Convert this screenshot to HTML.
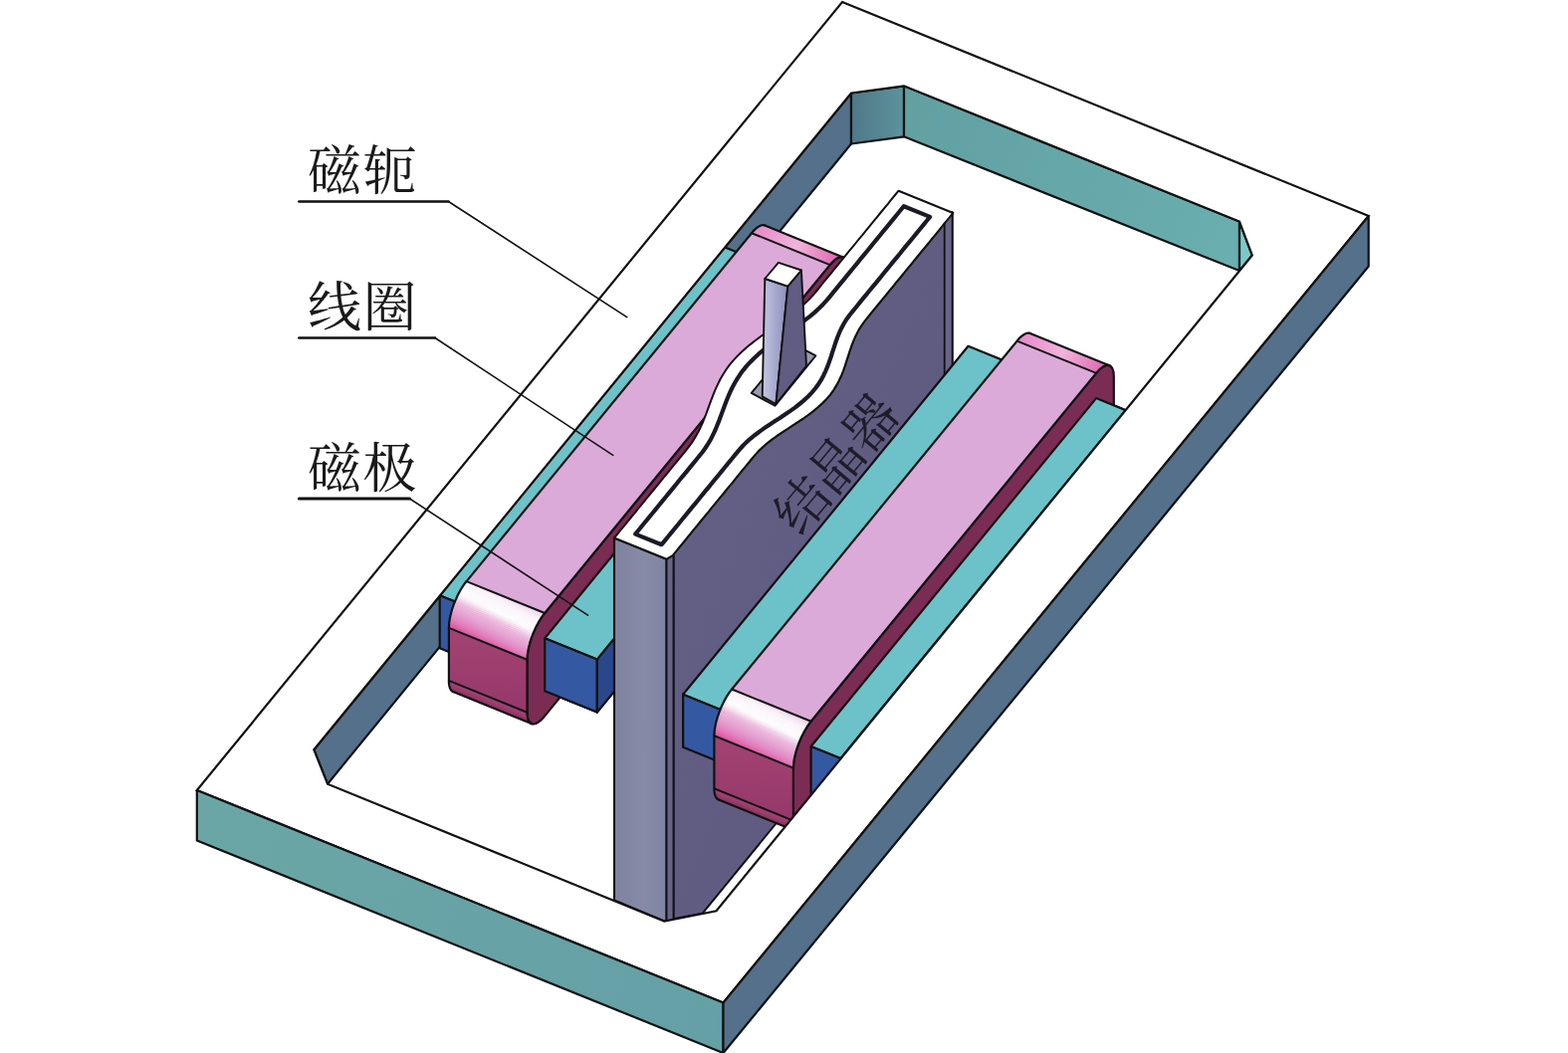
<!DOCTYPE html>
<html lang="zh"><head><meta charset="utf-8"><title>磁轭 线圈 磁极 结晶器</title>
<style>html,body{margin:0;padding:0;background:#fff}body{width:1575px;height:1058px;overflow:hidden;font-family:"Liberation Serif",serif}
svg{display:block;position:absolute;left:0;top:0}
.lbl{position:absolute;margin:0;color:transparent;font-size:52px;line-height:1;white-space:nowrap;font-family:"Liberation Serif",serif;opacity:0}
</style></head><body>
<svg width="1575" height="1058" viewBox="0 0 1575 1058" role="img"><title>电磁制动结构示意图：磁轭、线圈、磁极、结晶器</title><defs><linearGradient id="gCh" x1="0" y1="0" x2="1" y2="0"><stop offset="0" stop-color="#4f7888"/><stop offset="1" stop-color="#5d939c"/></linearGradient><linearGradient id="gFar" gradientUnits="userSpaceOnUse" x1="908" y1="100" x2="1245" y2="240"><stop offset="0" stop-color="#62a0a2"/><stop offset="1" stop-color="#6aaeb0"/></linearGradient><linearGradient id="gLB" gradientUnits="userSpaceOnUse" x1="198" y1="820" x2="726" y2="1030"><stop offset="0" stop-color="#6ba6a6"/><stop offset="1" stop-color="#64a0a6"/></linearGradient><linearGradient id="gFarStrip967" gradientUnits="userSpaceOnUse" x1="767.4" y1="226.6" x2="846.0" y2="258.6"><stop offset="0" stop-color="#e88fcc"/><stop offset="0.45" stop-color="#efb4dc"/><stop offset="1" stop-color="#df62b0"/></linearGradient><linearGradient id="b967_0" gradientUnits="userSpaceOnUse" x1="468.1" y1="584.6" x2="546.7" y2="616.6"><stop offset="0" stop-color="#f9eaf5"/><stop offset="0.5" stop-color="#f3dcee"/><stop offset="1" stop-color="#f3dcee"/></linearGradient><linearGradient id="b967_1" gradientUnits="userSpaceOnUse" x1="467.2" y1="585.8" x2="545.8" y2="617.8"><stop offset="0" stop-color="#fcf2f9"/><stop offset="0.5" stop-color="#f6e4f2"/><stop offset="1" stop-color="#f3dcee"/></linearGradient><linearGradient id="b967_2" gradientUnits="userSpaceOnUse" x1="466.2" y1="587.1" x2="544.9" y2="619.1"><stop offset="0" stop-color="#fdf5fb"/><stop offset="0.5" stop-color="#faecf6"/><stop offset="1" stop-color="#f4ddef"/></linearGradient><linearGradient id="b967_3" gradientUnits="userSpaceOnUse" x1="465.3" y1="588.4" x2="544.0" y2="620.4"><stop offset="0" stop-color="#fdf7fb"/><stop offset="0.5" stop-color="#fdf4fa"/><stop offset="1" stop-color="#f7e5f3"/></linearGradient><linearGradient id="b967_4" gradientUnits="userSpaceOnUse" x1="464.4" y1="589.8" x2="543.0" y2="621.8"><stop offset="0" stop-color="#fef8fc"/><stop offset="0.5" stop-color="#fdf5fb"/><stop offset="1" stop-color="#faedf7"/></linearGradient><linearGradient id="b967_5" gradientUnits="userSpaceOnUse" x1="463.5" y1="591.2" x2="542.2" y2="623.2"><stop offset="0" stop-color="#fefafd"/><stop offset="0.5" stop-color="#fef7fb"/><stop offset="1" stop-color="#fdf4fa"/></linearGradient><linearGradient id="b967_6" gradientUnits="userSpaceOnUse" x1="462.6" y1="592.7" x2="541.3" y2="624.7"><stop offset="0" stop-color="#fefbfd"/><stop offset="0.5" stop-color="#fef9fc"/><stop offset="1" stop-color="#fdf6fb"/></linearGradient><linearGradient id="b967_7" gradientUnits="userSpaceOnUse" x1="461.8" y1="594.3" x2="540.4" y2="626.2"><stop offset="0" stop-color="#fffdfe"/><stop offset="0.5" stop-color="#fefafd"/><stop offset="1" stop-color="#fef7fc"/></linearGradient><linearGradient id="b967_8" gradientUnits="userSpaceOnUse" x1="460.9" y1="595.8" x2="539.6" y2="627.8"><stop offset="0" stop-color="#fffeff"/><stop offset="0.5" stop-color="#fefcfd"/><stop offset="1" stop-color="#fef9fc"/></linearGradient><linearGradient id="b967_9" gradientUnits="userSpaceOnUse" x1="460.1" y1="597.4" x2="538.7" y2="629.4"><stop offset="0" stop-color="#fdf7fb"/><stop offset="0.5" stop-color="#fffdfe"/><stop offset="1" stop-color="#fefafd"/></linearGradient><linearGradient id="b967_10" gradientUnits="userSpaceOnUse" x1="459.3" y1="599.1" x2="537.9" y2="631.0"><stop offset="0" stop-color="#fae9f5"/><stop offset="0.5" stop-color="#ffffff"/><stop offset="1" stop-color="#fefcfe"/></linearGradient><linearGradient id="b967_11" gradientUnits="userSpaceOnUse" x1="458.5" y1="600.7" x2="537.2" y2="632.7"><stop offset="0" stop-color="#f7dbee"/><stop offset="0.5" stop-color="#fdf4fa"/><stop offset="1" stop-color="#fffdfe"/></linearGradient><linearGradient id="b967_12" gradientUnits="userSpaceOnUse" x1="457.8" y1="602.4" x2="536.4" y2="634.4"><stop offset="0" stop-color="#f4cde7"/><stop offset="0.5" stop-color="#fae6f3"/><stop offset="1" stop-color="#ffffff"/></linearGradient><linearGradient id="b967_13" gradientUnits="userSpaceOnUse" x1="457.1" y1="604.1" x2="535.7" y2="636.1"><stop offset="0" stop-color="#f1bee1"/><stop offset="0.5" stop-color="#f6d8ed"/><stop offset="1" stop-color="#fcf1f9"/></linearGradient><linearGradient id="b967_14" gradientUnits="userSpaceOnUse" x1="456.4" y1="605.9" x2="535.0" y2="637.8"><stop offset="0" stop-color="#efb7dd"/><stop offset="0.5" stop-color="#f3cae6"/><stop offset="1" stop-color="#f9e3f2"/></linearGradient><linearGradient id="b967_15" gradientUnits="userSpaceOnUse" x1="455.7" y1="607.6" x2="534.3" y2="639.6"><stop offset="0" stop-color="#edb2da"/><stop offset="0.5" stop-color="#f0bcdf"/><stop offset="1" stop-color="#f6d5eb"/></linearGradient><linearGradient id="b967_16" gradientUnits="userSpaceOnUse" x1="455.1" y1="609.3" x2="533.7" y2="641.3"><stop offset="0" stop-color="#ebadd8"/><stop offset="0.5" stop-color="#eeb6dc"/><stop offset="1" stop-color="#f3c7e5"/></linearGradient><linearGradient id="b967_17" gradientUnits="userSpaceOnUse" x1="454.5" y1="611.1" x2="533.1" y2="643.0"><stop offset="0" stop-color="#eaa8d5"/><stop offset="0.5" stop-color="#edb1da"/><stop offset="1" stop-color="#f0badf"/></linearGradient><linearGradient id="b967_18" gradientUnits="userSpaceOnUse" x1="454.0" y1="612.8" x2="532.6" y2="644.8"><stop offset="0" stop-color="#e8a2d2"/><stop offset="0.5" stop-color="#ebacd7"/><stop offset="1" stop-color="#eeb5dc"/></linearGradient><linearGradient id="b967_19" gradientUnits="userSpaceOnUse" x1="453.5" y1="614.5" x2="532.1" y2="646.5"><stop offset="0" stop-color="#e69dd0"/><stop offset="0.5" stop-color="#e9a7d4"/><stop offset="1" stop-color="#ecb0d9"/></linearGradient><linearGradient id="b967_20" gradientUnits="userSpaceOnUse" x1="453.0" y1="616.2" x2="531.6" y2="648.2"><stop offset="0" stop-color="#e697cc"/><stop offset="0.5" stop-color="#e8a1d2"/><stop offset="1" stop-color="#ebabd7"/></linearGradient><linearGradient id="b967_21" gradientUnits="userSpaceOnUse" x1="452.6" y1="617.9" x2="531.2" y2="649.9"><stop offset="0" stop-color="#e690c7"/><stop offset="0.5" stop-color="#e69ccf"/><stop offset="1" stop-color="#e9a6d4"/></linearGradient><linearGradient id="b967_22" gradientUnits="userSpaceOnUse" x1="452.2" y1="619.6" x2="530.8" y2="651.5"><stop offset="0" stop-color="#e789c3"/><stop offset="0.5" stop-color="#e695cb"/><stop offset="1" stop-color="#e7a0d1"/></linearGradient><linearGradient id="b967_23" gradientUnits="userSpaceOnUse" x1="451.9" y1="621.2" x2="530.5" y2="653.2"><stop offset="0" stop-color="#e782be"/><stop offset="0.5" stop-color="#e68ec6"/><stop offset="1" stop-color="#e69bce"/></linearGradient><linearGradient id="b967_24" gradientUnits="userSpaceOnUse" x1="451.6" y1="622.8" x2="530.2" y2="654.8"><stop offset="0" stop-color="#e77bba"/><stop offset="0.5" stop-color="#e787c2"/><stop offset="1" stop-color="#e694ca"/></linearGradient><linearGradient id="b967_25" gradientUnits="userSpaceOnUse" x1="451.4" y1="624.4" x2="530.0" y2="656.4"><stop offset="0" stop-color="#e673b4"/><stop offset="0.5" stop-color="#e780bd"/><stop offset="1" stop-color="#e68dc5"/></linearGradient><linearGradient id="b967_26" gradientUnits="userSpaceOnUse" x1="451.2" y1="625.9" x2="529.8" y2="657.9"><stop offset="0" stop-color="#e46aae"/><stop offset="0.5" stop-color="#e779b9"/><stop offset="1" stop-color="#e786c1"/></linearGradient><linearGradient id="b967_27" gradientUnits="userSpaceOnUse" x1="451.0" y1="627.4" x2="529.6" y2="659.4"><stop offset="0" stop-color="#e260a7"/><stop offset="0.5" stop-color="#e671b3"/><stop offset="1" stop-color="#e77fbd"/></linearGradient><linearGradient id="b967_28" gradientUnits="userSpaceOnUse" x1="450.9" y1="628.8" x2="529.5" y2="660.8"><stop offset="0" stop-color="#e057a0"/><stop offset="0.5" stop-color="#e468ac"/><stop offset="1" stop-color="#e778b8"/></linearGradient><linearGradient id="b967_29" gradientUnits="userSpaceOnUse" x1="450.9" y1="630.2" x2="529.5" y2="662.2"><stop offset="0" stop-color="#df549d"/><stop offset="0.5" stop-color="#e25fa5"/><stop offset="1" stop-color="#e66fb2"/></linearGradient><linearGradient id="gFr967" x1="0" y1="0" x2="0" y2="1"><stop offset="0" stop-color="#a34373"/><stop offset="1" stop-color="#95386a"/></linearGradient><linearGradient id="gPur" gradientUnits="userSpaceOnUse" x1="700" y1="520" x2="900" y2="600"><stop offset="0" stop-color="#635e83"/><stop offset="1" stop-color="#5f5b80"/></linearGradient><linearGradient id="gGray" x1="0" y1="0" x2="1" y2="0"><stop offset="0" stop-color="#7e829f"/><stop offset="0.55" stop-color="#868aa6"/><stop offset="1" stop-color="#8085a1"/></linearGradient><linearGradient id="gNz" x1="0" y1="0" x2="1" y2="0"><stop offset="0" stop-color="#c4c7e2"/><stop offset="0.5" stop-color="#a6a9ce"/><stop offset="1" stop-color="#8e90b8"/></linearGradient><linearGradient id="gFarStrip1322" gradientUnits="userSpaceOnUse" x1="1033.9" y1="335.0" x2="1113.5" y2="367.3"><stop offset="0" stop-color="#e88fcc"/><stop offset="0.45" stop-color="#efb4dc"/><stop offset="1" stop-color="#df62b0"/></linearGradient><linearGradient id="b1322_0" gradientUnits="userSpaceOnUse" x1="734.6" y1="693.0" x2="814.2" y2="725.4"><stop offset="0" stop-color="#f9eaf5"/><stop offset="0.5" stop-color="#f3dcee"/><stop offset="1" stop-color="#f3dcee"/></linearGradient><linearGradient id="b1322_1" gradientUnits="userSpaceOnUse" x1="733.7" y1="694.2" x2="813.2" y2="726.6"><stop offset="0" stop-color="#fcf2f9"/><stop offset="0.5" stop-color="#f6e4f2"/><stop offset="1" stop-color="#f3dcee"/></linearGradient><linearGradient id="b1322_2" gradientUnits="userSpaceOnUse" x1="732.8" y1="695.5" x2="812.3" y2="727.9"><stop offset="0" stop-color="#fdf5fb"/><stop offset="0.5" stop-color="#faecf6"/><stop offset="1" stop-color="#f4ddef"/></linearGradient><linearGradient id="b1322_3" gradientUnits="userSpaceOnUse" x1="731.9" y1="696.8" x2="811.4" y2="729.2"><stop offset="0" stop-color="#fdf7fb"/><stop offset="0.5" stop-color="#fdf4fa"/><stop offset="1" stop-color="#f7e5f3"/></linearGradient><linearGradient id="b1322_4" gradientUnits="userSpaceOnUse" x1="731.0" y1="698.2" x2="810.5" y2="730.6"><stop offset="0" stop-color="#fef8fc"/><stop offset="0.5" stop-color="#fdf5fb"/><stop offset="1" stop-color="#faedf7"/></linearGradient><linearGradient id="b1322_5" gradientUnits="userSpaceOnUse" x1="730.1" y1="699.6" x2="809.6" y2="732.0"><stop offset="0" stop-color="#fefafd"/><stop offset="0.5" stop-color="#fef7fb"/><stop offset="1" stop-color="#fdf4fa"/></linearGradient><linearGradient id="b1322_6" gradientUnits="userSpaceOnUse" x1="729.2" y1="701.1" x2="808.7" y2="733.5"><stop offset="0" stop-color="#fefbfd"/><stop offset="0.5" stop-color="#fef9fc"/><stop offset="1" stop-color="#fdf6fb"/></linearGradient><linearGradient id="b1322_7" gradientUnits="userSpaceOnUse" x1="728.3" y1="702.7" x2="807.9" y2="735.0"><stop offset="0" stop-color="#fffdfe"/><stop offset="0.5" stop-color="#fefafd"/><stop offset="1" stop-color="#fef7fc"/></linearGradient><linearGradient id="b1322_8" gradientUnits="userSpaceOnUse" x1="727.5" y1="704.2" x2="807.0" y2="736.6"><stop offset="0" stop-color="#fffeff"/><stop offset="0.5" stop-color="#fefcfd"/><stop offset="1" stop-color="#fef9fc"/></linearGradient><linearGradient id="b1322_9" gradientUnits="userSpaceOnUse" x1="726.7" y1="705.8" x2="806.2" y2="738.2"><stop offset="0" stop-color="#fdf7fb"/><stop offset="0.5" stop-color="#fffdfe"/><stop offset="1" stop-color="#fefafd"/></linearGradient><linearGradient id="b1322_10" gradientUnits="userSpaceOnUse" x1="725.9" y1="707.5" x2="805.4" y2="739.8"><stop offset="0" stop-color="#fae9f5"/><stop offset="0.5" stop-color="#ffffff"/><stop offset="1" stop-color="#fefcfe"/></linearGradient><linearGradient id="b1322_11" gradientUnits="userSpaceOnUse" x1="725.1" y1="709.1" x2="804.6" y2="741.5"><stop offset="0" stop-color="#f7dbee"/><stop offset="0.5" stop-color="#fdf4fa"/><stop offset="1" stop-color="#fffdfe"/></linearGradient><linearGradient id="b1322_12" gradientUnits="userSpaceOnUse" x1="724.3" y1="710.8" x2="803.9" y2="743.2"><stop offset="0" stop-color="#f4cde7"/><stop offset="0.5" stop-color="#fae6f3"/><stop offset="1" stop-color="#ffffff"/></linearGradient><linearGradient id="b1322_13" gradientUnits="userSpaceOnUse" x1="723.6" y1="712.5" x2="803.1" y2="744.9"><stop offset="0" stop-color="#f1bee1"/><stop offset="0.5" stop-color="#f6d8ed"/><stop offset="1" stop-color="#fcf1f9"/></linearGradient><linearGradient id="b1322_14" gradientUnits="userSpaceOnUse" x1="722.9" y1="714.3" x2="802.5" y2="746.6"><stop offset="0" stop-color="#efb7dd"/><stop offset="0.5" stop-color="#f3cae6"/><stop offset="1" stop-color="#f9e3f2"/></linearGradient><linearGradient id="b1322_15" gradientUnits="userSpaceOnUse" x1="722.3" y1="716.0" x2="801.8" y2="748.3"><stop offset="0" stop-color="#edb2da"/><stop offset="0.5" stop-color="#f0bcdf"/><stop offset="1" stop-color="#f6d5eb"/></linearGradient><linearGradient id="b1322_16" gradientUnits="userSpaceOnUse" x1="721.7" y1="717.7" x2="801.2" y2="750.1"><stop offset="0" stop-color="#ebadd8"/><stop offset="0.5" stop-color="#eeb6dc"/><stop offset="1" stop-color="#f3c7e5"/></linearGradient><linearGradient id="b1322_17" gradientUnits="userSpaceOnUse" x1="721.1" y1="719.5" x2="800.6" y2="751.8"><stop offset="0" stop-color="#eaa8d5"/><stop offset="0.5" stop-color="#edb1da"/><stop offset="1" stop-color="#f0badf"/></linearGradient><linearGradient id="b1322_18" gradientUnits="userSpaceOnUse" x1="720.5" y1="721.2" x2="800.1" y2="753.5"><stop offset="0" stop-color="#e8a2d2"/><stop offset="0.5" stop-color="#ebacd7"/><stop offset="1" stop-color="#eeb5dc"/></linearGradient><linearGradient id="b1322_19" gradientUnits="userSpaceOnUse" x1="720.0" y1="722.9" x2="799.5" y2="755.3"><stop offset="0" stop-color="#e69dd0"/><stop offset="0.5" stop-color="#e9a7d4"/><stop offset="1" stop-color="#ecb0d9"/></linearGradient><linearGradient id="b1322_20" gradientUnits="userSpaceOnUse" x1="719.6" y1="724.6" x2="799.1" y2="757.0"><stop offset="0" stop-color="#e697cc"/><stop offset="0.5" stop-color="#e8a1d2"/><stop offset="1" stop-color="#ebabd7"/></linearGradient><linearGradient id="b1322_21" gradientUnits="userSpaceOnUse" x1="719.1" y1="726.3" x2="798.7" y2="758.7"><stop offset="0" stop-color="#e690c7"/><stop offset="0.5" stop-color="#e69ccf"/><stop offset="1" stop-color="#e9a6d4"/></linearGradient><linearGradient id="b1322_22" gradientUnits="userSpaceOnUse" x1="718.8" y1="728.0" x2="798.3" y2="760.3"><stop offset="0" stop-color="#e789c3"/><stop offset="0.5" stop-color="#e695cb"/><stop offset="1" stop-color="#e7a0d1"/></linearGradient><linearGradient id="b1322_23" gradientUnits="userSpaceOnUse" x1="718.4" y1="729.6" x2="798.0" y2="762.0"><stop offset="0" stop-color="#e782be"/><stop offset="0.5" stop-color="#e68ec6"/><stop offset="1" stop-color="#e69bce"/></linearGradient><linearGradient id="b1322_24" gradientUnits="userSpaceOnUse" x1="718.1" y1="731.2" x2="797.7" y2="763.6"><stop offset="0" stop-color="#e77bba"/><stop offset="0.5" stop-color="#e787c2"/><stop offset="1" stop-color="#e694ca"/></linearGradient><linearGradient id="b1322_25" gradientUnits="userSpaceOnUse" x1="717.9" y1="732.8" x2="797.4" y2="765.1"><stop offset="0" stop-color="#e673b4"/><stop offset="0.5" stop-color="#e780bd"/><stop offset="1" stop-color="#e68dc5"/></linearGradient><linearGradient id="b1322_26" gradientUnits="userSpaceOnUse" x1="717.7" y1="734.3" x2="797.2" y2="766.7"><stop offset="0" stop-color="#e46aae"/><stop offset="0.5" stop-color="#e779b9"/><stop offset="1" stop-color="#e786c1"/></linearGradient><linearGradient id="b1322_27" gradientUnits="userSpaceOnUse" x1="717.6" y1="735.8" x2="797.1" y2="768.1"><stop offset="0" stop-color="#e260a7"/><stop offset="0.5" stop-color="#e671b3"/><stop offset="1" stop-color="#e77fbd"/></linearGradient><linearGradient id="b1322_28" gradientUnits="userSpaceOnUse" x1="717.5" y1="737.2" x2="797.0" y2="769.6"><stop offset="0" stop-color="#e057a0"/><stop offset="0.5" stop-color="#e468ac"/><stop offset="1" stop-color="#e778b8"/></linearGradient><linearGradient id="b1322_29" gradientUnits="userSpaceOnUse" x1="717.4" y1="738.6" x2="796.9" y2="770.9"><stop offset="0" stop-color="#df549d"/><stop offset="0.5" stop-color="#e25fa5"/><stop offset="1" stop-color="#e66fb2"/></linearGradient><linearGradient id="gFr1322" x1="0" y1="0" x2="0" y2="1"><stop offset="0" stop-color="#a34373"/><stop offset="1" stop-color="#95386a"/></linearGradient></defs><polygon points="315.3,753.2 855.0,93.5 855.0,144.5 329.0,787.7" fill="#54708a" stroke="#111" stroke-width="2.2" stroke-linejoin="round" />
<polygon points="855.0,93.5 908.0,86.3 908.0,137.3 855.0,144.5" fill="url(#gCh)" stroke="#111" stroke-width="2.2" stroke-linejoin="round" />
<polygon points="908.0,86.3 1245.0,222.6 1245.0,272.1 908.0,137.3" fill="url(#gFar)" stroke="#111" stroke-width="2.2" stroke-linejoin="round" />
<polygon points="1245.0,222.6 1257.8,256.5 1245.0,272.1" fill="#7cc9c9" stroke="#111" stroke-width="2.2" stroke-linejoin="round" />
<polygon points="728.1,248.4 886.3,312.7 599.8,662.6 441.7,598.3" fill="#6cc2c8" stroke="#111" stroke-width="2.2" stroke-linejoin="round" />
<polygon points="441.7,598.3 599.8,662.6 599.8,715.6 441.7,651.3" fill="#3558a2" stroke="#111" stroke-width="2.2" stroke-linejoin="round" />
<polygon points="599.8,662.6 886.3,312.7 886.3,365.7 599.8,715.6" fill="#2b478c" stroke="#111" stroke-width="2.2" stroke-linejoin="round" />
<path d="M851.3 269.7 L851.3 268.4 L851.2 267.2 L851.1 266.1 L850.9 265.0 L850.7 263.9 L850.4 263.0 L850.1 262.1 L849.8 261.3 L849.4 260.6 L848.9 260.0 L848.5 259.5 L847.9 259.0 L847.4 258.7 L846.8 258.4 L846.1 258.2 L845.5 258.2 L844.8 258.2 L844.0 258.2 L843.3 258.4 L842.5 258.7 L841.7 259.1 L840.8 259.5 L840.0 260.1 L839.1 260.7 L838.2 261.4 L837.3 262.2 L836.4 263.1 L835.5 264.0 L834.6 265.0 L833.6 266.1 L547.2 616.0 L546.2 617.2 L545.3 618.4 L544.4 619.7 L543.5 621.1 L542.6 622.5 L541.7 623.9 L540.8 625.5 L540.0 627.0 L539.1 628.6 L538.3 630.2 L537.5 631.9 L536.8 633.5 L536.0 635.2 L535.3 637.0 L534.7 638.7 L534.0 640.4 L533.4 642.2 L532.9 643.9 L532.3 645.6 L531.9 647.3 L531.4 649.0 L531.0 650.7 L530.7 652.4 L530.4 654.0 L530.1 655.6 L529.9 657.1 L529.7 658.6 L529.6 660.1 L529.5 661.5 L529.5 662.8 L529.5 715.8 L529.5 717.1 L529.6 718.4 L529.7 719.5 L529.9 720.6 L530.1 721.6 L530.4 722.6 L530.7 723.4 L531.0 724.2 L531.4 724.9 L531.9 725.5 L532.3 726.1 L532.9 726.5 L533.4 726.9 L534.0 727.2 L534.7 727.3 L535.3 727.4 L536.0 727.4 L536.8 727.3 L537.5 727.1 L538.3 726.9 L539.1 726.5 L540.0 726.0 L540.8 725.5 L541.7 724.9 L542.6 724.2 L543.5 723.4 L544.4 722.5 L545.3 721.6 L546.2 720.5 L547.2 719.4 L833.6 369.5 L834.6 368.4 L835.5 367.1 L836.4 365.8 L837.3 364.5 L838.2 363.1 L839.1 361.6 L840.0 360.1 L840.8 358.6 L841.7 357.0 L842.5 355.4 L843.3 353.7 L844.0 352.0 L844.8 350.3 L845.5 348.6 L846.1 346.9 L846.8 345.1 L847.4 343.4 L847.9 341.7 L848.5 339.9 L848.9 338.2 L849.4 336.5 L849.8 334.8 L850.1 333.2 L850.4 331.6 L850.7 330.0 L850.9 328.4 L851.1 326.9 L851.2 325.5 L851.3 324.1 L851.3 322.7 Z" fill="#7b2c54" stroke="#111" stroke-width="2.2" stroke-linejoin="round"/>
<polygon points="768.2,226.5 767.9,226.4 767.6,226.3 767.2,226.2 766.8,226.2 766.5,226.2 766.1,226.2 765.7,226.2 765.3,226.3 764.9,226.4 764.5,226.5 764.0,226.7 763.6,226.8 763.2,227.0 762.7,227.3 762.3,227.5 761.8,227.8 761.3,228.1 760.9,228.4 760.4,228.8 759.9,229.1 759.4,229.5 759.0,230.0 758.5,230.4 758.0,230.9 757.5,231.4 757.0,231.9 756.5,232.4 756.0,233.0 755.5,233.6 755.0,234.2 833.6,266.1 834.1,265.5 834.6,265.0 835.1,264.4 835.6,263.9 836.1,263.3 836.6,262.9 837.1,262.4 837.6,261.9 838.1,261.5 838.5,261.1 839.0,260.7 839.5,260.4 840.0,260.1 840.4,259.8 840.9,259.5 841.3,259.2 841.8,259.0 842.2,258.8 842.7,258.6 843.1,258.5 843.5,258.4 843.9,258.3 844.3,258.2 844.7,258.2 845.1,258.1 845.5,258.2 845.8,258.2 846.2,258.3 846.5,258.3 846.9,258.5" fill="url(#gFarStrip967)"/>
<polygon points="755.0,234.2 833.6,266.1 547.2,616.0 468.6,584.1" fill="#dcaad8" stroke="#dcaad8" stroke-width="0.7" stroke-linejoin="round" />
<polygon points="468.6,584.1 547.2,616.0 546.2,617.2 467.6,585.2" fill="url(#b967_0)" stroke="url(#b967_0)" stroke-width="0.7"/>
<polygon points="467.6,585.2 546.2,617.2 545.3,618.4 466.7,586.5" fill="url(#b967_1)" stroke="url(#b967_1)" stroke-width="0.7"/>
<polygon points="466.7,586.5 545.3,618.4 544.4,619.7 465.8,587.7" fill="url(#b967_2)" stroke="url(#b967_2)" stroke-width="0.7"/>
<polygon points="465.8,587.7 544.4,619.7 543.5,621.1 464.9,589.1" fill="url(#b967_3)" stroke="url(#b967_3)" stroke-width="0.7"/>
<polygon points="464.9,589.1 543.5,621.1 542.6,622.5 464.0,590.5" fill="url(#b967_4)" stroke="url(#b967_4)" stroke-width="0.7"/>
<polygon points="464.0,590.5 542.6,622.5 541.7,623.9 463.1,592.0" fill="url(#b967_5)" stroke="url(#b967_5)" stroke-width="0.7"/>
<polygon points="463.1,592.0 541.7,623.9 540.8,625.5 462.2,593.5" fill="url(#b967_6)" stroke="url(#b967_6)" stroke-width="0.7"/>
<polygon points="462.2,593.5 540.8,625.5 540.0,627.0 461.4,595.0" fill="url(#b967_7)" stroke="url(#b967_7)" stroke-width="0.7"/>
<polygon points="461.4,595.0 540.0,627.0 539.1,628.6 460.5,596.6" fill="url(#b967_8)" stroke="url(#b967_8)" stroke-width="0.7"/>
<polygon points="460.5,596.6 539.1,628.6 538.3,630.2 459.7,598.2" fill="url(#b967_9)" stroke="url(#b967_9)" stroke-width="0.7"/>
<polygon points="459.7,598.2 538.3,630.2 537.5,631.9 458.9,599.9" fill="url(#b967_10)" stroke="url(#b967_10)" stroke-width="0.7"/>
<polygon points="458.9,599.9 537.5,631.9 536.8,633.5 458.2,601.6" fill="url(#b967_11)" stroke="url(#b967_11)" stroke-width="0.7"/>
<polygon points="458.2,601.6 536.8,633.5 536.0,635.2 457.4,603.3" fill="url(#b967_12)" stroke="url(#b967_12)" stroke-width="0.7"/>
<polygon points="457.4,603.3 536.0,635.2 535.3,637.0 456.7,605.0" fill="url(#b967_13)" stroke="url(#b967_13)" stroke-width="0.7"/>
<polygon points="456.7,605.0 535.3,637.0 534.7,638.7 456.0,606.7" fill="url(#b967_14)" stroke="url(#b967_14)" stroke-width="0.7"/>
<polygon points="456.0,606.7 534.7,638.7 534.0,640.4 455.4,608.5" fill="url(#b967_15)" stroke="url(#b967_15)" stroke-width="0.7"/>
<polygon points="455.4,608.5 534.0,640.4 533.4,642.2 454.8,610.2" fill="url(#b967_16)" stroke="url(#b967_16)" stroke-width="0.7"/>
<polygon points="454.8,610.2 533.4,642.2 532.9,643.9 454.2,611.9" fill="url(#b967_17)" stroke="url(#b967_17)" stroke-width="0.7"/>
<polygon points="454.2,611.9 532.9,643.9 532.3,645.6 453.7,613.7" fill="url(#b967_18)" stroke="url(#b967_18)" stroke-width="0.7"/>
<polygon points="453.7,613.7 532.3,645.6 531.9,647.3 453.2,615.4" fill="url(#b967_19)" stroke="url(#b967_19)" stroke-width="0.7"/>
<polygon points="453.2,615.4 531.9,647.3 531.4,649.0 452.8,617.1" fill="url(#b967_20)" stroke="url(#b967_20)" stroke-width="0.7"/>
<polygon points="452.8,617.1 531.4,649.0 531.0,650.7 452.4,618.7" fill="url(#b967_21)" stroke="url(#b967_21)" stroke-width="0.7"/>
<polygon points="452.4,618.7 531.0,650.7 530.7,652.4 452.0,620.4" fill="url(#b967_22)" stroke="url(#b967_22)" stroke-width="0.7"/>
<polygon points="452.0,620.4 530.7,652.4 530.4,654.0 451.7,622.0" fill="url(#b967_23)" stroke="url(#b967_23)" stroke-width="0.7"/>
<polygon points="451.7,622.0 530.4,654.0 530.1,655.6 451.5,623.6" fill="url(#b967_24)" stroke="url(#b967_24)" stroke-width="0.7"/>
<polygon points="451.5,623.6 530.1,655.6 529.9,657.1 451.2,625.2" fill="url(#b967_25)" stroke="url(#b967_25)" stroke-width="0.7"/>
<polygon points="451.2,625.2 529.9,657.1 529.7,658.6 451.1,626.7" fill="url(#b967_26)" stroke="url(#b967_26)" stroke-width="0.7"/>
<polygon points="451.1,626.7 529.7,658.6 529.6,660.1 451.0,628.1" fill="url(#b967_27)" stroke="url(#b967_27)" stroke-width="0.7"/>
<polygon points="451.0,628.1 529.6,660.1 529.5,661.5 450.9,629.5" fill="url(#b967_28)" stroke="url(#b967_28)" stroke-width="0.7"/>
<polygon points="450.9,629.5 529.5,661.5 529.5,662.8 450.9,630.9" fill="url(#b967_29)" stroke="url(#b967_29)" stroke-width="0.7"/>
<polygon points="450.9,630.9 529.5,662.8 529.5,715.8 450.9,683.9" fill="url(#gFr967)" stroke="#9c3d6b" stroke-width="0.7" stroke-linejoin="round" />
<polygon points="450.9,683.9 529.5,715.8 529.5,716.4 450.9,684.5" fill="#a44779" stroke="#a44779" stroke-width="0.7"/>
<polygon points="450.9,684.5 529.5,716.4 529.5,717.0 450.9,685.0" fill="#a44678" stroke="#a44678" stroke-width="0.7"/>
<polygon points="450.9,685.0 529.5,717.0 529.5,717.6 450.9,685.6" fill="#a24577" stroke="#a24577" stroke-width="0.7"/>
<polygon points="450.9,685.6 529.5,717.6 529.6,718.1 450.9,686.2" fill="#a24476" stroke="#a24476" stroke-width="0.7"/>
<polygon points="450.9,686.2 529.6,718.1 529.6,718.7 451.0,686.7" fill="#a04375" stroke="#a04375" stroke-width="0.7"/>
<polygon points="451.0,686.7 529.6,718.7 529.7,719.2 451.0,687.2" fill="#a04273" stroke="#a04273" stroke-width="0.7"/>
<polygon points="451.0,687.2 529.7,719.2 529.7,719.7 451.1,687.8" fill="#9e4172" stroke="#9e4172" stroke-width="0.7"/>
<polygon points="451.1,687.8 529.7,719.7 529.8,720.2 451.2,688.3" fill="#9e4071" stroke="#9e4071" stroke-width="0.7"/>
<polygon points="451.2,688.3 529.8,720.2 529.9,720.7 451.3,688.7" fill="#9c4070" stroke="#9c4070" stroke-width="0.7"/>
<polygon points="451.3,688.7 529.9,720.7 530.0,721.2 451.4,689.2" fill="#9c3f6f" stroke="#9c3f6f" stroke-width="0.7"/>
<polygon points="451.4,689.2 530.0,721.2 530.1,721.6 451.5,689.7" fill="#9a3e6d" stroke="#9a3e6d" stroke-width="0.7"/>
<polygon points="451.5,689.7 530.1,721.6 530.2,722.1 451.6,690.1" fill="#9a3d6c" stroke="#9a3d6c" stroke-width="0.7"/>
<polygon points="451.6,690.1 530.2,722.1 530.3,722.5 451.7,690.5" fill="#983c6b" stroke="#983c6b" stroke-width="0.7"/>
<polygon points="451.7,690.5 530.3,722.5 530.5,722.9 451.8,690.9" fill="#983b6a" stroke="#983b6a" stroke-width="0.7"/>
<polygon points="451.8,690.9 530.5,722.9 530.6,723.3 452.0,691.3" fill="#963a69" stroke="#963a69" stroke-width="0.7"/>
<polygon points="452.0,691.3 530.6,723.3 530.8,723.7 452.1,691.7" fill="#953a67" stroke="#953a67" stroke-width="0.7"/>
<polygon points="452.1,691.7 530.8,723.7 530.9,724.0 452.3,692.1" fill="#933966" stroke="#933966" stroke-width="0.7"/>
<polygon points="452.3,692.1 530.9,724.0 531.1,724.4 452.5,692.4" fill="#913865" stroke="#913865" stroke-width="0.7"/>
<polygon points="452.5,692.4 531.1,724.4 531.3,724.7 452.6,692.7" fill="#8f3763" stroke="#8f3763" stroke-width="0.7"/>
<polygon points="452.6,692.7 531.3,724.7 531.5,725.0 452.8,693.0" fill="#8e3662" stroke="#8e3662" stroke-width="0.7"/>
<polygon points="452.8,693.0 531.5,725.0 531.7,725.3 453.0,693.3" fill="#8c3561" stroke="#8c3561" stroke-width="0.7"/>
<polygon points="453.0,693.3 531.7,725.3 531.9,725.6 453.2,693.6" fill="#8a345f" stroke="#8a345f" stroke-width="0.7"/>
<polygon points="453.2,693.6 531.9,725.6 532.1,725.8 453.5,693.8" fill="#88335e" stroke="#88335e" stroke-width="0.7"/>
<polygon points="453.5,693.8 532.1,725.8 532.3,726.0 453.7,694.1" fill="#86325d" stroke="#86325d" stroke-width="0.7"/>
<polygon points="453.7,694.1 532.3,726.0 532.5,726.3 453.9,694.3" fill="#84315b" stroke="#84315b" stroke-width="0.7"/>
<polygon points="453.9,694.3 532.5,726.3 532.8,726.5 454.2,694.5" fill="#82305a" stroke="#82305a" stroke-width="0.7"/>
<polygon points="454.2,694.5 532.8,726.5 533.0,726.6 454.4,694.7" fill="#812f59" stroke="#812f59" stroke-width="0.7"/>
<polygon points="454.4,694.7 533.0,726.6 533.3,726.8 454.7,694.8" fill="#7f2e57" stroke="#7f2e57" stroke-width="0.7"/>
<polygon points="454.7,694.8 533.3,726.8 533.6,726.9 454.9,695.0" fill="#7d2d56" stroke="#7d2d56" stroke-width="0.7"/>
<polygon points="454.9,695.0 533.6,726.9 533.8,727.1 455.2,695.1" fill="#7b2c55" stroke="#7b2c55" stroke-width="0.7"/>
<polyline points="768.2,226.5 767.9,226.4 767.6,226.3 767.2,226.2 766.8,226.2 766.5,226.2 766.1,226.2 765.7,226.2 765.3,226.3 764.9,226.4 764.5,226.5 764.0,226.7 763.6,226.8 763.2,227.0 762.7,227.3 762.3,227.5 761.8,227.8 761.3,228.1 760.9,228.4 760.4,228.8 759.9,229.1 759.4,229.5 759.0,230.0 758.5,230.4 758.0,230.9 757.5,231.4 757.0,231.9 756.5,232.4 756.0,233.0 755.5,233.6 755.0,234.2 468.6,584.1 467.6,585.2 466.7,586.5 465.8,587.7 464.9,589.1 464.0,590.5 463.1,592.0 462.2,593.5 461.4,595.0 460.5,596.6 459.7,598.2 458.9,599.9 458.2,601.6 457.4,603.3 456.7,605.0 456.0,606.7 455.4,608.5 454.8,610.2 454.2,611.9 453.7,613.7 453.2,615.4 452.8,617.1 452.4,618.7 452.0,620.4 451.7,622.0 451.5,623.6 451.2,625.2 451.1,626.7 451.0,628.1 450.9,629.5 450.9,630.9 450.9,683.9 450.9,684.5 450.9,685.0 450.9,685.6 450.9,686.2 451.0,686.7 451.0,687.2 451.1,687.8 451.2,688.3 451.3,688.7 451.4,689.2 451.5,689.7 451.6,690.1 451.7,690.5 451.8,690.9 452.0,691.3 452.1,691.7 452.3,692.1 452.5,692.4 452.6,692.7 452.8,693.0 453.0,693.3 453.2,693.6 453.5,693.8 453.7,694.1 453.9,694.3 454.2,694.5 454.4,694.7 454.7,694.8 454.9,695.0 455.2,695.1" fill="none" stroke="#111" stroke-width="2.2" stroke-linejoin="round" stroke-linecap="round" />
<polyline points="846.9,258.5 846.5,258.3 846.2,258.3 845.8,258.2 845.5,258.2 845.1,258.1 844.7,258.2 844.3,258.2 843.9,258.3 843.5,258.4 843.1,258.5 842.7,258.6 842.2,258.8 841.8,259.0 841.3,259.2 840.9,259.5 840.4,259.8 840.0,260.1 839.5,260.4 839.0,260.7 838.5,261.1 838.1,261.5 837.6,261.9 837.1,262.4 836.6,262.9 836.1,263.3 835.6,263.9 835.1,264.4 834.6,265.0 834.1,265.5 833.6,266.1 547.2,616.0 546.2,617.2 545.3,618.4 544.4,619.7 543.5,621.1 542.6,622.5 541.7,623.9 540.8,625.5 540.0,627.0 539.1,628.6 538.3,630.2 537.5,631.9 536.8,633.5 536.0,635.2 535.3,637.0 534.7,638.7 534.0,640.4 533.4,642.2 532.9,643.9 532.3,645.6 531.9,647.3 531.4,649.0 531.0,650.7 530.7,652.4 530.4,654.0 530.1,655.6 529.9,657.1 529.7,658.6 529.6,660.1 529.5,661.5 529.5,662.8 529.5,715.8 529.5,716.4 529.5,717.0 529.5,717.6 529.6,718.1 529.6,718.7 529.7,719.2 529.7,719.7 529.8,720.2 529.9,720.7 530.0,721.2 530.1,721.6 530.2,722.1 530.3,722.5 530.5,722.9 530.6,723.3 530.8,723.7 530.9,724.0 531.1,724.4 531.3,724.7 531.5,725.0 531.7,725.3 531.9,725.6 532.1,725.8 532.3,726.0 532.5,726.3 532.8,726.5 533.0,726.6 533.3,726.8 533.6,726.9 533.8,727.1" fill="none" stroke="#111" stroke-width="2.2" stroke-linejoin="round" stroke-linecap="round" />
<polyline points="768.2,226.5 846.9,258.5" fill="none" stroke="#111" stroke-width="2.2" stroke-linejoin="round" stroke-linecap="round" />
<polyline points="455.2,695.1 533.8,727.1" fill="none" stroke="#111" stroke-width="2.2" stroke-linejoin="round" stroke-linecap="round" />
<polyline points="755.0,234.2 833.6,266.1" fill="none" stroke="#111" stroke-width="2.0" stroke-linejoin="round" stroke-linecap="round" />
<polyline points="468.6,584.1 547.2,616.0" fill="none" stroke="#111" stroke-width="2.0" stroke-linejoin="round" stroke-linecap="round" />
<polyline points="450.9,630.9 529.5,662.8" fill="none" stroke="#111" stroke-width="2.0" stroke-linejoin="round" stroke-linecap="round" />
<polyline points="450.9,683.9 529.5,715.8" fill="none" stroke="#111" stroke-width="2.0" stroke-linejoin="round" stroke-linecap="round" />
<polygon points="833.6,291.3 886.3,312.7 599.8,662.6 547.2,641.2" fill="#6cc2c8" stroke="#111" stroke-width="2.2" stroke-linejoin="round" />
<polygon points="547.2,641.2 599.8,662.6 599.8,715.6 547.2,694.2" fill="#3558a2" stroke="#111" stroke-width="2.2" stroke-linejoin="round" />
<polygon points="599.8,662.6 886.3,312.7 886.3,365.7 599.8,715.6" fill="#2b478c" stroke="#111" stroke-width="2.2" stroke-linejoin="round" />
<polygon points="956.6,213.3 953.8,218.3 950.2,222.7 946.6,227.0 943.1,231.4 939.5,235.8 935.9,240.1 932.4,244.5 928.8,248.8 925.2,253.2 921.7,257.5 918.1,261.9 914.5,266.3 910.9,270.6 907.4,275.0 903.8,279.3 900.2,283.7 896.7,288.1 893.1,292.4 889.5,296.8 886.0,301.1 882.4,305.5 878.8,309.9 875.3,314.2 871.7,318.6 868.2,323.0 865.0,327.5 862.2,332.1 859.7,336.9 857.5,341.9 855.5,346.9 853.7,352.0 852.1,357.1 850.4,362.2 848.8,367.4 847.0,372.5 845.0,377.5 842.7,382.4 840.2,387.1 837.3,391.8 834.1,396.3 830.4,400.6 826.4,404.8 822.0,408.8 817.3,412.7 812.4,416.5 807.1,420.2 801.7,423.8 796.3,427.4 790.8,431.0 785.3,434.6 780.0,438.2 774.9,441.9 770.0,445.8 765.5,449.7 761.3,453.8 757.5,458.1 753.9,462.5 750.3,466.8 746.8,471.2 743.2,475.5 739.6,479.9 736.1,484.3 732.5,488.6 728.9,493.0 725.4,497.3 721.8,501.7 718.2,506.1 714.6,510.4 711.1,514.8 707.5,519.1 703.9,523.5 700.4,527.8 696.8,532.2 693.2,536.6 689.7,540.9 686.1,545.3 682.5,549.6 679.0,554.0 675.4,558.4 676.5,557.5 676.5,923.3 705.5,917.8 956.6,611.1" fill="url(#gPur)" stroke="#111" stroke-width="2.0" stroke-linejoin="round" />
<polygon points="948.7,222.0 956.6,213.3 956.6,380.0 948.7,380.0" fill="#68648a" stroke="#111" stroke-width="1.8" stroke-linejoin="round" />
<polygon points="617.0,540.5 669.5,561.8 669.5,926.5 617.0,904.5" fill="url(#gGray)" stroke="#111" stroke-width="2.1" stroke-linejoin="round" />
<polygon points="669.5,561.8 676.5,557.5 676.5,923.5 669.5,926.5" fill="#67638a" stroke="#111" stroke-width="1.9" stroke-linejoin="round" />
<polygon points="617.0,540.5 620.6,536.1 624.2,531.7 627.8,527.4 631.3,523.0 634.9,518.7 638.5,514.3 642.0,509.9 645.6,505.6 649.2,501.2 652.7,496.9 656.3,492.5 659.9,488.1 663.4,483.8 667.0,479.4 670.6,475.1 674.2,470.7 677.7,466.3 681.3,462.0 684.9,457.6 688.4,453.3 691.9,448.9 695.2,444.4 698.1,439.8 700.8,435.1 703.3,430.2 705.5,425.3 707.5,420.4 709.5,415.3 711.3,410.3 713.2,405.2 715.1,400.2 717.0,395.2 719.1,390.2 721.4,385.3 723.8,380.5 726.6,375.8 729.5,371.2 732.8,366.7 736.4,362.4 740.3,358.1 744.5,354.0 748.9,350.0 753.6,346.1 758.5,342.3 763.5,338.5 768.7,334.8 774.0,331.2 779.3,327.5 784.6,323.8 789.8,320.1 794.8,316.4 799.7,312.6 804.4,308.7 808.8,304.6 813.0,300.5 816.9,296.3 820.5,292.0 824.1,287.6 827.6,283.2 831.2,278.9 834.8,274.5 838.3,270.2 841.9,265.8 845.5,261.4 849.0,257.1 852.6,252.7 856.2,248.4 859.7,244.0 863.3,239.6 866.9,235.3 870.5,230.9 874.0,226.6 877.6,222.2 881.2,217.8 884.7,213.5 888.3,209.1 891.9,204.8 895.4,200.4 899.0,196.0 902.6,191.7 957.3,214.0 953.8,218.3 950.2,222.7 946.6,227.0 943.1,231.4 939.5,235.8 935.9,240.1 932.4,244.5 928.8,248.8 925.2,253.2 921.7,257.5 918.1,261.9 914.5,266.3 910.9,270.6 907.4,275.0 903.8,279.3 900.2,283.7 896.7,288.1 893.1,292.4 889.5,296.8 886.0,301.1 882.4,305.5 878.8,309.9 875.3,314.2 871.7,318.6 868.2,323.0 865.0,327.5 862.2,332.1 859.7,336.9 857.5,341.9 855.5,346.9 853.7,352.0 852.1,357.1 850.4,362.2 848.8,367.4 847.0,372.5 845.0,377.5 842.7,382.4 840.2,387.1 837.3,391.8 834.1,396.3 830.4,400.6 826.4,404.8 822.0,408.8 817.3,412.7 812.4,416.5 807.1,420.2 801.7,423.8 796.3,427.4 790.8,431.0 785.3,434.6 780.0,438.2 774.9,441.9 770.0,445.8 765.5,449.7 761.3,453.8 757.5,458.1 753.9,462.5 750.3,466.8 746.8,471.2 743.2,475.5 739.6,479.9 736.1,484.3 732.5,488.6 728.9,493.0 725.4,497.3 721.8,501.7 718.2,506.1 714.6,510.4 711.1,514.8 707.5,519.1 703.9,523.5 700.4,527.8 696.8,532.2 693.2,536.6 689.7,540.9 686.1,545.3 682.5,549.6 679.0,554.0 675.4,558.4 676.5,557.5 669.5,561.8" fill="#ffffff" stroke="#111" stroke-width="2.0" stroke-linejoin="round" />
<polygon points="638.2,536.6 641.6,532.5 645.0,528.3 648.3,524.2 651.7,520.1 655.1,516.0 658.5,511.9 661.8,507.8 665.2,503.6 668.6,499.5 671.9,495.4 675.3,491.3 678.7,487.2 682.0,483.0 685.4,478.9 688.8,474.8 692.2,470.7 695.5,466.6 698.9,462.5 702.3,458.3 705.6,454.2 708.6,450.0 711.4,445.6 714.0,441.2 716.3,436.6 718.5,432.0 720.4,427.3 722.3,422.6 724.1,417.8 725.8,413.1 727.6,408.3 729.4,403.5 731.3,398.8 733.3,394.1 735.5,389.5 737.9,385.0 740.5,380.6 743.3,376.3 746.4,372.1 749.8,367.9 753.5,363.9 757.4,360.0 761.5,356.2 765.9,352.5 770.5,348.9 775.2,345.3 780.1,341.8 785.0,338.4 790.0,334.9 795.0,331.5 800.0,328.0 804.8,324.5 809.6,320.9 814.2,317.3 818.6,313.6 822.7,309.8 826.6,305.9 830.3,301.9 833.7,297.8 837.1,293.7 840.4,289.6 843.8,285.4 847.2,281.3 850.6,277.2 853.9,273.1 857.3,269.0 860.7,264.9 864.0,260.7 867.4,256.6 870.8,252.5 874.2,248.4 877.5,244.3 880.9,240.2 884.3,236.0 887.6,231.9 891.0,227.8 894.4,223.7 897.7,219.6 901.1,215.5 904.5,211.3 907.9,207.2 934.1,217.9 930.7,222.0 927.4,226.1 924.0,230.3 920.6,234.4 917.3,238.5 913.9,242.6 910.5,246.7 907.1,250.8 903.8,255.0 900.4,259.1 897.0,263.2 893.7,267.3 890.3,271.4 886.9,275.5 883.6,279.7 880.2,283.8 876.8,287.9 873.4,292.0 870.1,296.1 866.7,300.2 863.3,304.4 860.0,308.5 856.6,312.6 853.3,316.7 850.2,321.0 847.5,325.4 845.1,329.9 843.0,334.5 841.1,339.2 839.4,344.0 837.8,348.8 836.2,353.7 834.7,358.5 833.0,363.4 831.3,368.1 829.3,372.8 827.1,377.4 824.7,381.9 821.9,386.3 818.8,390.5 815.3,394.6 811.6,398.5 807.4,402.4 803.0,406.0 798.4,409.6 793.5,413.1 788.4,416.6 783.3,420.0 778.1,423.3 772.9,426.7 767.8,430.1 762.9,433.6 758.1,437.2 753.7,440.8 749.4,444.6 745.6,448.5 742.0,452.6 738.6,456.7 735.3,460.8 731.9,464.9 728.5,469.0 725.2,473.1 721.8,477.3 718.4,481.4 715.0,485.5 711.7,489.6 708.3,493.7 704.9,497.8 701.6,502.0 698.2,506.1 694.8,510.2 691.4,514.3 688.1,518.4 684.7,522.5 681.3,526.7 678.0,530.8 674.6,534.9 671.2,539.0 667.9,543.1 664.5,547.2" fill="none" stroke="#1b1a26" stroke-width="4.2" stroke-linejoin="round" />
<polygon points="754.7,394.9 778.5,407.7 819.4,357.4 796.0,345.0" fill="#9a9ab0" stroke="#111" stroke-width="1.9" stroke-linejoin="round" />
<polygon points="768.3,280.0 791.3,287.7 779.4,406.0 765.7,398.3" fill="url(#gNz)" stroke="#111" stroke-width="1.9" stroke-linejoin="round" />
<polygon points="791.3,287.7 804.9,271.5 810.0,367.7 779.4,406.0" fill="#605c82" stroke="#111" stroke-width="1.9" stroke-linejoin="round" />
<polygon points="781.9,263.8 804.9,271.5 791.3,287.7 768.3,280.0" fill="#ffffff" stroke="#111" stroke-width="1.9" stroke-linejoin="round" />
<polygon points="972.5,347.8 1130.8,412.2 844.4,762.1 686.1,697.7" fill="#6cc2c8" stroke="#111" stroke-width="2.2" stroke-linejoin="round" />
<polygon points="686.1,697.7 844.4,762.1 844.4,815.1 686.1,750.7" fill="#3558a2" stroke="#111" stroke-width="2.2" stroke-linejoin="round" />
<polygon points="844.4,762.1 1130.8,412.2 1130.8,465.2 844.4,815.1" fill="#2b478c" stroke="#111" stroke-width="2.2" stroke-linejoin="round" />
<path d="M1118.8 378.5 L1118.7 377.2 L1118.7 376.0 L1118.5 374.8 L1118.4 373.7 L1118.2 372.7 L1117.9 371.8 L1117.6 370.9 L1117.2 370.1 L1116.8 369.4 L1116.4 368.8 L1115.9 368.3 L1115.4 367.8 L1114.8 367.5 L1114.2 367.2 L1113.6 367.0 L1112.9 366.9 L1112.2 366.9 L1111.5 367.0 L1110.7 367.2 L1109.9 367.5 L1109.1 367.8 L1108.3 368.3 L1107.4 368.8 L1106.5 369.5 L1105.7 370.2 L1104.8 371.0 L1103.8 371.8 L1102.9 372.8 L1102.0 373.8 L1101.1 374.9 L814.6 724.8 L813.7 726.0 L812.8 727.2 L811.9 728.5 L810.9 729.9 L810.0 731.3 L809.2 732.7 L808.3 734.2 L807.4 735.8 L806.6 737.4 L805.8 739.0 L805.0 740.6 L804.2 742.3 L803.5 744.0 L802.8 745.7 L802.1 747.5 L801.5 749.2 L800.9 750.9 L800.3 752.7 L799.8 754.4 L799.3 756.1 L798.9 757.8 L798.5 759.5 L798.1 761.1 L797.8 762.8 L797.5 764.4 L797.3 765.9 L797.2 767.4 L797.0 768.9 L797.0 770.3 L796.9 771.6 L796.9 824.6 L797.0 825.9 L797.0 827.1 L797.2 828.3 L797.3 829.4 L797.5 830.4 L797.8 831.3 L798.1 832.2 L798.5 833.0 L798.9 833.7 L799.3 834.3 L799.8 834.9 L800.3 835.3 L800.9 835.7 L801.5 835.9 L802.1 836.1 L802.8 836.2 L803.5 836.2 L804.2 836.1 L805.0 835.9 L805.8 835.6 L806.6 835.3 L807.4 834.8 L808.3 834.3 L809.2 833.7 L810.0 832.9 L810.9 832.1 L811.9 831.3 L812.8 830.3 L813.7 829.3 L814.6 828.2 L1101.1 478.3 L1102.0 477.1 L1102.9 475.9 L1103.8 474.6 L1104.8 473.3 L1105.7 471.9 L1106.5 470.4 L1107.4 468.9 L1108.3 467.3 L1109.1 465.8 L1109.9 464.1 L1110.7 462.5 L1111.5 460.8 L1112.2 459.1 L1112.9 457.4 L1113.6 455.6 L1114.2 453.9 L1114.8 452.2 L1115.4 450.4 L1115.9 448.7 L1116.4 447.0 L1116.8 445.3 L1117.2 443.6 L1117.6 442.0 L1117.9 440.3 L1118.2 438.8 L1118.4 437.2 L1118.5 435.7 L1118.7 434.3 L1118.7 432.8 L1118.8 431.5 Z" fill="#7b2c54" stroke="#111" stroke-width="2.2" stroke-linejoin="round"/>
<polygon points="1034.8,334.9 1034.5,334.8 1034.1,334.7 1033.8,334.6 1033.4,334.6 1033.0,334.6 1032.6,334.6 1032.2,334.6 1031.8,334.7 1031.4,334.8 1031.0,334.9 1030.6,335.1 1030.2,335.2 1029.7,335.4 1029.3,335.7 1028.8,335.9 1028.4,336.2 1027.9,336.5 1027.4,336.8 1027.0,337.2 1026.5,337.5 1026.0,337.9 1025.5,338.4 1025.0,338.8 1024.5,339.3 1024.0,339.8 1023.5,340.3 1023.0,340.8 1022.6,341.4 1022.1,342.0 1021.6,342.6 1101.1,374.9 1101.6,374.3 1102.1,373.7 1102.6,373.2 1103.1,372.6 1103.6,372.1 1104.1,371.6 1104.5,371.2 1105.0,370.7 1105.5,370.3 1106.0,369.9 1106.5,369.5 1107.0,369.2 1107.4,368.8 1107.9,368.5 1108.3,368.3 1108.8,368.0 1109.2,367.8 1109.7,367.6 1110.1,367.4 1110.5,367.3 1111.0,367.1 1111.4,367.0 1111.8,367.0 1112.2,366.9 1112.5,366.9 1112.9,366.9 1113.3,367.0 1113.6,367.0 1114.0,367.1 1114.3,367.2" fill="url(#gFarStrip1322)"/>
<polygon points="1021.6,342.6 1101.1,374.9 814.6,724.8 735.1,692.5" fill="#dcaad8" stroke="#dcaad8" stroke-width="0.7" stroke-linejoin="round" />
<polygon points="735.1,692.5 814.6,724.8 813.7,726.0 734.2,693.6" fill="url(#b1322_0)" stroke="url(#b1322_0)" stroke-width="0.7"/>
<polygon points="734.2,693.6 813.7,726.0 812.8,727.2 733.3,694.9" fill="url(#b1322_1)" stroke="url(#b1322_1)" stroke-width="0.7"/>
<polygon points="733.3,694.9 812.8,727.2 811.9,728.5 732.3,696.2" fill="url(#b1322_2)" stroke="url(#b1322_2)" stroke-width="0.7"/>
<polygon points="732.3,696.2 811.9,728.5 810.9,729.9 731.4,697.5" fill="url(#b1322_3)" stroke="url(#b1322_3)" stroke-width="0.7"/>
<polygon points="731.4,697.5 810.9,729.9 810.0,731.3 730.5,698.9" fill="url(#b1322_4)" stroke="url(#b1322_4)" stroke-width="0.7"/>
<polygon points="730.5,698.9 810.0,731.3 809.2,732.7 729.6,700.4" fill="url(#b1322_5)" stroke="url(#b1322_5)" stroke-width="0.7"/>
<polygon points="729.6,700.4 809.2,732.7 808.3,734.2 728.8,701.9" fill="url(#b1322_6)" stroke="url(#b1322_6)" stroke-width="0.7"/>
<polygon points="728.8,701.9 808.3,734.2 807.4,735.8 727.9,703.4" fill="url(#b1322_7)" stroke="url(#b1322_7)" stroke-width="0.7"/>
<polygon points="727.9,703.4 807.4,735.8 806.6,737.4 727.1,705.0" fill="url(#b1322_8)" stroke="url(#b1322_8)" stroke-width="0.7"/>
<polygon points="727.1,705.0 806.6,737.4 805.8,739.0 726.3,706.6" fill="url(#b1322_9)" stroke="url(#b1322_9)" stroke-width="0.7"/>
<polygon points="726.3,706.6 805.8,739.0 805.0,740.6 725.5,708.3" fill="url(#b1322_10)" stroke="url(#b1322_10)" stroke-width="0.7"/>
<polygon points="725.5,708.3 805.0,740.6 804.2,742.3 724.7,710.0" fill="url(#b1322_11)" stroke="url(#b1322_11)" stroke-width="0.7"/>
<polygon points="724.7,710.0 804.2,742.3 803.5,744.0 724.0,711.7" fill="url(#b1322_12)" stroke="url(#b1322_12)" stroke-width="0.7"/>
<polygon points="724.0,711.7 803.5,744.0 802.8,745.7 723.3,713.4" fill="url(#b1322_13)" stroke="url(#b1322_13)" stroke-width="0.7"/>
<polygon points="723.3,713.4 802.8,745.7 802.1,747.5 722.6,715.1" fill="url(#b1322_14)" stroke="url(#b1322_14)" stroke-width="0.7"/>
<polygon points="722.6,715.1 802.1,747.5 801.5,749.2 722.0,716.9" fill="url(#b1322_15)" stroke="url(#b1322_15)" stroke-width="0.7"/>
<polygon points="722.0,716.9 801.5,749.2 800.9,750.9 721.4,718.6" fill="url(#b1322_16)" stroke="url(#b1322_16)" stroke-width="0.7"/>
<polygon points="721.4,718.6 800.9,750.9 800.3,752.7 720.8,720.3" fill="url(#b1322_17)" stroke="url(#b1322_17)" stroke-width="0.7"/>
<polygon points="720.8,720.3 800.3,752.7 799.8,754.4 720.3,722.1" fill="url(#b1322_18)" stroke="url(#b1322_18)" stroke-width="0.7"/>
<polygon points="720.3,722.1 799.8,754.4 799.3,756.1 719.8,723.8" fill="url(#b1322_19)" stroke="url(#b1322_19)" stroke-width="0.7"/>
<polygon points="719.8,723.8 799.3,756.1 798.9,757.8 719.3,725.5" fill="url(#b1322_20)" stroke="url(#b1322_20)" stroke-width="0.7"/>
<polygon points="719.3,725.5 798.9,757.8 798.5,759.5 718.9,727.2" fill="url(#b1322_21)" stroke="url(#b1322_21)" stroke-width="0.7"/>
<polygon points="718.9,727.2 798.5,759.5 798.1,761.1 718.6,728.8" fill="url(#b1322_22)" stroke="url(#b1322_22)" stroke-width="0.7"/>
<polygon points="718.6,728.8 798.1,761.1 797.8,762.8 718.3,730.4" fill="url(#b1322_23)" stroke="url(#b1322_23)" stroke-width="0.7"/>
<polygon points="718.3,730.4 797.8,762.8 797.5,764.4 718.0,732.0" fill="url(#b1322_24)" stroke="url(#b1322_24)" stroke-width="0.7"/>
<polygon points="718.0,732.0 797.5,764.4 797.3,765.9 717.8,733.6" fill="url(#b1322_25)" stroke="url(#b1322_25)" stroke-width="0.7"/>
<polygon points="717.8,733.6 797.3,765.9 797.2,767.4 717.6,735.1" fill="url(#b1322_26)" stroke="url(#b1322_26)" stroke-width="0.7"/>
<polygon points="717.6,735.1 797.2,767.4 797.0,768.9 717.5,736.5" fill="url(#b1322_27)" stroke="url(#b1322_27)" stroke-width="0.7"/>
<polygon points="717.5,736.5 797.0,768.9 797.0,770.3 717.4,737.9" fill="url(#b1322_28)" stroke="url(#b1322_28)" stroke-width="0.7"/>
<polygon points="717.4,737.9 797.0,770.3 796.9,771.6 717.4,739.3" fill="url(#b1322_29)" stroke="url(#b1322_29)" stroke-width="0.7"/>
<polygon points="717.4,739.3 796.9,771.6 796.9,824.6 717.4,792.3" fill="url(#gFr1322)" stroke="#9c3d6b" stroke-width="0.7" stroke-linejoin="round" />
<polygon points="717.4,792.3 796.9,824.6 796.9,825.2 717.4,792.9" fill="#a44779" stroke="#a44779" stroke-width="0.7"/>
<polygon points="717.4,792.9 796.9,825.2 797.0,825.8 717.4,793.4" fill="#a44678" stroke="#a44678" stroke-width="0.7"/>
<polygon points="717.4,793.4 797.0,825.8 797.0,826.4 717.5,794.0" fill="#a24577" stroke="#a24577" stroke-width="0.7"/>
<polygon points="717.5,794.0 797.0,826.4 797.0,826.9 717.5,794.6" fill="#a24476" stroke="#a24476" stroke-width="0.7"/>
<polygon points="717.5,794.6 797.0,826.9 797.1,827.5 717.5,795.1" fill="#a04375" stroke="#a04375" stroke-width="0.7"/>
<polygon points="717.5,795.1 797.1,827.5 797.1,828.0 717.6,795.6" fill="#a04273" stroke="#a04273" stroke-width="0.7"/>
<polygon points="717.6,795.6 797.1,828.0 797.2,828.5 717.7,796.2" fill="#9e4172" stroke="#9e4172" stroke-width="0.7"/>
<polygon points="717.7,796.2 797.2,828.5 797.3,829.0 717.7,796.7" fill="#9e4071" stroke="#9e4071" stroke-width="0.7"/>
<polygon points="717.7,796.7 797.3,829.0 797.3,829.5 717.8,797.1" fill="#9c4070" stroke="#9c4070" stroke-width="0.7"/>
<polygon points="717.8,797.1 797.3,829.5 797.4,830.0 717.9,797.6" fill="#9c3f6f" stroke="#9c3f6f" stroke-width="0.7"/>
<polygon points="717.9,797.6 797.4,830.0 797.5,830.4 718.0,798.1" fill="#9a3e6d" stroke="#9a3e6d" stroke-width="0.7"/>
<polygon points="718.0,798.1 797.5,830.4 797.7,830.9 718.1,798.5" fill="#9a3d6c" stroke="#9a3d6c" stroke-width="0.7"/>
<polygon points="718.1,798.5 797.7,830.9 797.8,831.3 718.3,798.9" fill="#983c6b" stroke="#983c6b" stroke-width="0.7"/>
<polygon points="718.3,798.9 797.8,831.3 797.9,831.7 718.4,799.3" fill="#983b6a" stroke="#983b6a" stroke-width="0.7"/>
<polygon points="718.4,799.3 797.9,831.7 798.1,832.1 718.5,799.7" fill="#963a69" stroke="#963a69" stroke-width="0.7"/>
<polygon points="718.5,799.7 798.1,832.1 798.2,832.4 718.7,800.1" fill="#953a67" stroke="#953a67" stroke-width="0.7"/>
<polygon points="718.7,800.1 798.2,832.4 798.4,832.8 718.8,800.5" fill="#933966" stroke="#933966" stroke-width="0.7"/>
<polygon points="718.8,800.5 798.4,832.8 798.5,833.1 719.0,800.8" fill="#913865" stroke="#913865" stroke-width="0.7"/>
<polygon points="719.0,800.8 798.5,833.1 798.7,833.5 719.2,801.1" fill="#8f3763" stroke="#8f3763" stroke-width="0.7"/>
<polygon points="719.2,801.1 798.7,833.5 798.9,833.8 719.4,801.4" fill="#8e3662" stroke="#8e3662" stroke-width="0.7"/>
<polygon points="719.4,801.4 798.9,833.8 799.1,834.1 719.6,801.7" fill="#8c3561" stroke="#8c3561" stroke-width="0.7"/>
<polygon points="719.6,801.7 799.1,834.1 799.3,834.3 719.8,802.0" fill="#8a345f" stroke="#8a345f" stroke-width="0.7"/>
<polygon points="719.8,802.0 799.3,834.3 799.5,834.6 720.0,802.2" fill="#88335e" stroke="#88335e" stroke-width="0.7"/>
<polygon points="720.0,802.2 799.5,834.6 799.8,834.8 720.2,802.5" fill="#86325d" stroke="#86325d" stroke-width="0.7"/>
<polygon points="720.2,802.5 799.8,834.8 800.0,835.0 720.5,802.7" fill="#84315b" stroke="#84315b" stroke-width="0.7"/>
<polygon points="720.5,802.7 800.0,835.0 800.2,835.2 720.7,802.9" fill="#82305a" stroke="#82305a" stroke-width="0.7"/>
<polygon points="720.7,802.9 800.2,835.2 800.5,835.4 721.0,803.1" fill="#812f59" stroke="#812f59" stroke-width="0.7"/>
<polygon points="721.0,803.1 800.5,835.4 800.7,835.6 721.2,803.2" fill="#7f2e57" stroke="#7f2e57" stroke-width="0.7"/>
<polygon points="721.2,803.2 800.7,835.6 801.0,835.7 721.5,803.4" fill="#7d2d56" stroke="#7d2d56" stroke-width="0.7"/>
<polygon points="721.5,803.4 801.0,835.7 801.3,835.8 721.8,803.5" fill="#7b2c55" stroke="#7b2c55" stroke-width="0.7"/>
<polyline points="1034.8,334.9 1034.5,334.8 1034.1,334.7 1033.8,334.6 1033.4,334.6 1033.0,334.6 1032.6,334.6 1032.2,334.6 1031.8,334.7 1031.4,334.8 1031.0,334.9 1030.6,335.1 1030.2,335.2 1029.7,335.4 1029.3,335.7 1028.8,335.9 1028.4,336.2 1027.9,336.5 1027.4,336.8 1027.0,337.2 1026.5,337.5 1026.0,337.9 1025.5,338.4 1025.0,338.8 1024.5,339.3 1024.0,339.8 1023.5,340.3 1023.0,340.8 1022.6,341.4 1022.1,342.0 1021.6,342.6 735.1,692.5 734.2,693.6 733.3,694.9 732.3,696.2 731.4,697.5 730.5,698.9 729.6,700.4 728.8,701.9 727.9,703.4 727.1,705.0 726.3,706.6 725.5,708.3 724.7,710.0 724.0,711.7 723.3,713.4 722.6,715.1 722.0,716.9 721.4,718.6 720.8,720.3 720.3,722.1 719.8,723.8 719.3,725.5 718.9,727.2 718.6,728.8 718.3,730.4 718.0,732.0 717.8,733.6 717.6,735.1 717.5,736.5 717.4,737.9 717.4,739.3 717.4,792.3 717.4,792.9 717.4,793.4 717.5,794.0 717.5,794.6 717.5,795.1 717.6,795.6 717.7,796.2 717.7,796.7 717.8,797.1 717.9,797.6 718.0,798.1 718.1,798.5 718.3,798.9 718.4,799.3 718.5,799.7 718.7,800.1 718.8,800.5 719.0,800.8 719.2,801.1 719.4,801.4 719.6,801.7 719.8,802.0 720.0,802.2 720.2,802.5 720.5,802.7 720.7,802.9 721.0,803.1 721.2,803.2 721.5,803.4 721.8,803.5" fill="none" stroke="#111" stroke-width="2.2" stroke-linejoin="round" stroke-linecap="round" />
<polyline points="1114.3,367.2 1114.0,367.1 1113.6,367.0 1113.3,367.0 1112.9,366.9 1112.5,366.9 1112.2,366.9 1111.8,367.0 1111.4,367.0 1111.0,367.1 1110.5,367.3 1110.1,367.4 1109.7,367.6 1109.2,367.8 1108.8,368.0 1108.3,368.3 1107.9,368.5 1107.4,368.8 1107.0,369.2 1106.5,369.5 1106.0,369.9 1105.5,370.3 1105.0,370.7 1104.5,371.2 1104.1,371.6 1103.6,372.1 1103.1,372.6 1102.6,373.2 1102.1,373.7 1101.6,374.3 1101.1,374.9 814.6,724.8 813.7,726.0 812.8,727.2 811.9,728.5 810.9,729.9 810.0,731.3 809.2,732.7 808.3,734.2 807.4,735.8 806.6,737.4 805.8,739.0 805.0,740.6 804.2,742.3 803.5,744.0 802.8,745.7 802.1,747.5 801.5,749.2 800.9,750.9 800.3,752.7 799.8,754.4 799.3,756.1 798.9,757.8 798.5,759.5 798.1,761.1 797.8,762.8 797.5,764.4 797.3,765.9 797.2,767.4 797.0,768.9 797.0,770.3 796.9,771.6 796.9,824.6 796.9,825.2 797.0,825.8 797.0,826.4 797.0,826.9 797.1,827.5 797.1,828.0 797.2,828.5 797.3,829.0 797.3,829.5 797.4,830.0 797.5,830.4 797.7,830.9 797.8,831.3 797.9,831.7 798.1,832.1 798.2,832.4 798.4,832.8 798.5,833.1 798.7,833.5 798.9,833.8 799.1,834.1 799.3,834.3 799.5,834.6 799.8,834.8 800.0,835.0 800.2,835.2 800.5,835.4 800.7,835.6 801.0,835.7 801.3,835.8" fill="none" stroke="#111" stroke-width="2.2" stroke-linejoin="round" stroke-linecap="round" />
<polyline points="1034.8,334.9 1114.3,367.2" fill="none" stroke="#111" stroke-width="2.2" stroke-linejoin="round" stroke-linecap="round" />
<polyline points="721.8,803.5 801.3,835.8" fill="none" stroke="#111" stroke-width="2.2" stroke-linejoin="round" stroke-linecap="round" />
<polyline points="1021.6,342.6 1101.1,374.9" fill="none" stroke="#111" stroke-width="2.0" stroke-linejoin="round" stroke-linecap="round" />
<polyline points="735.1,692.5 814.6,724.8" fill="none" stroke="#111" stroke-width="2.0" stroke-linejoin="round" stroke-linecap="round" />
<polyline points="717.4,739.3 796.9,771.6" fill="none" stroke="#111" stroke-width="2.0" stroke-linejoin="round" stroke-linecap="round" />
<polyline points="717.4,792.3 796.9,824.6" fill="none" stroke="#111" stroke-width="2.0" stroke-linejoin="round" stroke-linecap="round" />
<polygon points="1101.1,400.1 1130.8,412.2 844.4,762.1 814.6,750.0" fill="#6cc2c8" stroke="#111" stroke-width="2.2" stroke-linejoin="round" />
<polygon points="814.6,750.0 844.4,762.1 844.4,815.1 814.6,803.0" fill="#3558a2" stroke="#111" stroke-width="2.2" stroke-linejoin="round" />
<polygon points="844.4,762.1 1130.8,412.2 1130.8,465.2 844.4,815.1" fill="#2b478c" stroke="#111" stroke-width="2.2" stroke-linejoin="round" />
<path d="M846.0 2.0 L1374.7 217.0 L726.5 1007.5 L197.8 794.0 Z M855.0 93.5 L908.0 86.3 L1245.0 222.6 L1257.8 256.5 L719.5 915.3 L667.2 925.5 L329.0 787.7 L315.3 753.2 Z" fill="#ffffff" fill-rule="evenodd" stroke="#111" stroke-width="2.2" stroke-linejoin="miter"/>
<polygon points="197.8,794.0 726.5,1007.5 726.5,1058.0 197.8,844.5" fill="url(#gLB)" stroke="#111" stroke-width="2.2" stroke-linejoin="round" />
<polygon points="1374.7,217.0 726.5,1007.5 726.5,1058.0 1374.7,267.5" fill="#54708a" stroke="#111" stroke-width="2.2" stroke-linejoin="round" />
<text x="309" y="191" font-size="54" letter-spacing="1.6" fill="#1a1a1a" font-family="&quot;Liberation Serif&quot;, &quot;Noto Serif CJK SC&quot;, serif">磁轭</text>
<text x="309" y="328.3" font-size="54" letter-spacing="1.6" fill="#1a1a1a" font-family="&quot;Liberation Serif&quot;, &quot;Noto Serif CJK SC&quot;, serif">线圈</text>
<text x="309" y="490" font-size="54" letter-spacing="1.6" fill="#1a1a1a" font-family="&quot;Liberation Serif&quot;, &quot;Noto Serif CJK SC&quot;, serif">磁极</text>
<text transform="translate(803.5,540.0) rotate(-50.2)" x="0" y="0" font-size="53.5" fill="#1e1c28" font-family="&quot;Liberation Serif&quot;, &quot;Noto Serif CJK SC&quot;, serif">结晶器</text>
<polyline points="300.4,202.5 450.5,202.5" fill="none" stroke="#111" stroke-width="2.6" stroke-linejoin="round" stroke-linecap="round" />
<polyline points="450.5,202.5 629.7,318.6" fill="none" stroke="#111" stroke-width="1.6" stroke-linejoin="round" stroke-linecap="round" />
<polyline points="300.4,339.5 437.0,339.5" fill="none" stroke="#111" stroke-width="2.6" stroke-linejoin="round" stroke-linecap="round" />
<polyline points="437.0,339.5 615.7,457.4" fill="none" stroke="#111" stroke-width="1.6" stroke-linejoin="round" stroke-linecap="round" />
<polyline points="300.4,501.0 411.5,501.0" fill="none" stroke="#111" stroke-width="3.0" stroke-linejoin="round" stroke-linecap="round" />
<polyline points="411.5,501.0 590.5,618.2" fill="none" stroke="#111" stroke-width="1.6" stroke-linejoin="round" stroke-linecap="round" /></svg>
<p class="lbl" style="left:309px;top:144px">磁轭</p>
<p class="lbl" style="left:309px;top:281px">线圈</p>
<p class="lbl" style="left:309px;top:443px">磁极</p>
<p class="lbl" style="left:760px;top:430px">结晶器</p>
</body></html>
